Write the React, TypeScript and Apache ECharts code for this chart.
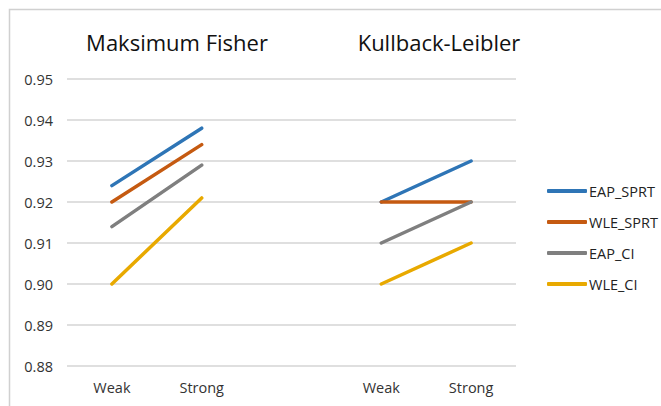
import React, { useEffect, useRef } from "react";
import * as echarts from "echarts";

// Categories: two panels (Maksimum Fisher, Kullback-Leibler) separated by an empty slot
const categories = ["Weak", "Strong", "", "Weak", "Strong"];
const seriesNames = ["EAP_SPRT", "WLE_SPRT", "EAP_CI", "WLE_CI"];
const eapSprt = [0.924, 0.938, null, 0.92, 0.93];
const wleSprt = [0.92, 0.934, null, 0.92, 0.92];
const eapCi = [0.914, 0.929, null, 0.91, 0.92];
const wleCi = [0.9, 0.921, null, 0.9, 0.91];
const seriesValues = [eapSprt, wleSprt, eapCi, wleCi];
const colors = ["#2E75B6", "#C55A11", "#7F7F7F", "#E8A900"];
const panelTitles = ["Maksimum Fisher", "Kullback-Leibler"];

const FONT = "'Open Sans', 'Liberation Sans', sans-serif";

export default function App() {
  const ref = useRef<HTMLDivElement>(null);

  useEffect(() => {
    if (!ref.current) return;
    const chart = echarts.init(ref.current, null, { renderer: "svg" });
    chart.setOption({
      animation: false,
      backgroundColor: "#ffffff",
      textStyle: { fontFamily: FONT },
      graphic: [
        {
          type: "rect",
          shape: { x: 9.5, y: 9.5, width: 700, height: 500 },
          style: { fill: "none", stroke: "#D0D0D0", lineWidth: 1.5 },
          silent: true,
        },
        {
          type: "text",
          x: 177,
          y: 42,
          style: {
            text: panelTitles[0],
            font: `22px ${FONT}`,
            fill: "#111111",
            textAlign: "center",
            textVerticalAlign: "middle",
          },
        },
        {
          type: "text",
          x: 439,
          y: 42,
          style: {
            text: panelTitles[1],
            font: `22px ${FONT}`,
            fill: "#111111",
            textAlign: "center",
            textVerticalAlign: "middle",
          },
        },
      ],
      legend: {
        orient: "vertical",
        left: 542,
        top: 178,
        itemWidth: 40,
        itemHeight: 4,
        itemGap: 15,
        icon: "roundRect",
        data: seriesNames,
        textStyle: {
          fontFamily: FONT,
          fontSize: 14.5,
          lineHeight: 16,
          color: "#222222",
          padding: [0, 0, 0, -3],
        },
      },
      grid: { left: 67, right: 145, top: 79, bottom: 40 },
      xAxis: {
        type: "category",
        data: categories,
        boundaryGap: true,
        axisLine: { show: false },
        axisTick: { show: false },
        axisLabel: { color: "#333333", fontSize: 14.5, margin: 14, fontFamily: FONT },
      },
      yAxis: {
        type: "value",
        min: 0.88,
        max: 0.95,
        interval: 0.01,
        axisLine: { show: false },
        axisTick: { show: false },
        axisLabel: {
          color: "#333333",
          fontSize: 14.5,
          margin: 14,
          fontFamily: FONT,
          formatter: (v: number) => v.toFixed(2),
        },
        splitLine: { lineStyle: { color: "#D4D4D4", width: 1.5 } },
      },
      series: seriesNames.map((name, i) => ({
        name,
        type: "line",
        data: seriesValues[i],
        connectNulls: false,
        symbol: "none",
        color: colors[i],
        lineStyle: { width: 3.5, color: colors[i], cap: "round" },
        itemStyle: { color: colors[i] },
      })),
    });
    return () => chart.dispose();
  }, []);

  return (
    <div
      ref={ref}
      style={{ position: "fixed", left: 0, top: 0, width: 661, height: 406 }}
    />
  );
}
